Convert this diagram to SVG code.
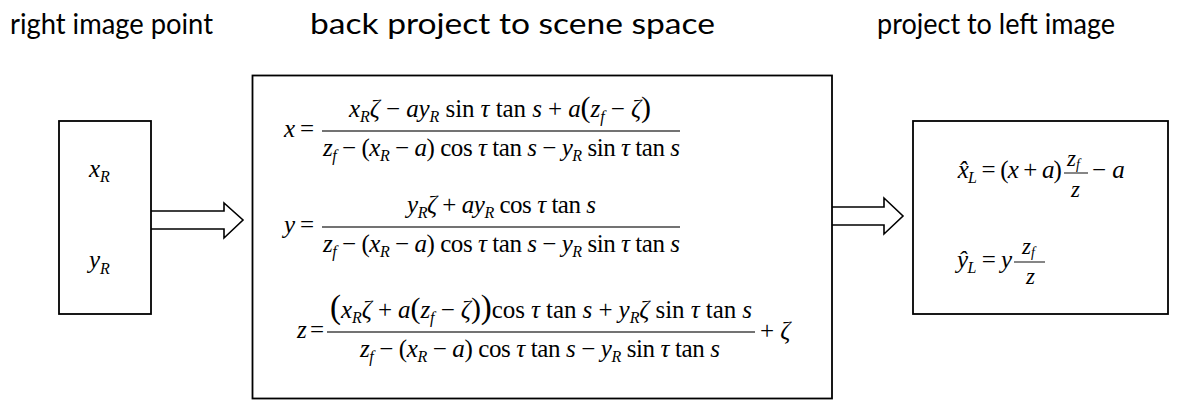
<svg xmlns="http://www.w3.org/2000/svg" width="1196" height="402" viewBox="0 0 1196 402">
<style>
.t{font-family:Lato,"Liberation Sans",sans-serif;font-size:29px;fill:#000}
.m{font-family:"Liberation Serif","DejaVu Serif",serif;font-size:25px;fill:#000}
.fr{font-size:23px}
.i{font-style:italic}
.s{font-size:16px;font-style:italic}
.s2{font-size:14px;font-style:italic}
.bp{font-size:30px}
.box{fill:#fff;stroke:#000;stroke-width:1.8}
.frac{stroke:#444;stroke-width:1.3}
.arrow{fill:#fff;stroke:#000;stroke-width:1.6;stroke-linejoin:miter}
</style>
<rect width="1196" height="402" fill="#fff"/>
<g id="connectors">
<path class="arrow" d="M151,211 H224 V203 L243,220 L224,238 V229 H151"/>
<path class="arrow" d="M832,207 H884 V198 L903,216 L884,234 V225 H832"/>
</g>
<g id="node-right-image-point">
<text class="t" x="10" y="34" textLength="203" lengthAdjust="spacingAndGlyphs">right image point</text>
<rect class="box" x="59" y="121" width="92" height="193"/>
<text class="m" x="89" y="177"><tspan class="i">x</tspan><tspan class="s" dy="5">R</tspan></text>
<text class="m" x="89" y="268"><tspan class="i">y</tspan><tspan class="s" dy="6">R</tspan></text>
</g>
<g id="node-scene-space">
<text class="t" x="310" y="34" textLength="405" lengthAdjust="spacingAndGlyphs">back project to scene space</text>
<rect class="box" x="252.5" y="75.5" width="579.5" height="323" stroke-width="2"/>
<text class="m" x="284" y="137" textLength="30" lengthAdjust="spacing"><tspan class="i">x</tspan> =</text>
<text class="m" x="349" y="117" textLength="302" lengthAdjust="spacing"><tspan class="i">x</tspan><tspan class="s" dy="5">R</tspan><tspan class="i" dy="-5">ζ</tspan> − <tspan class="i">ay</tspan><tspan class="s" dy="5">R</tspan><tspan dy="-5"> sin </tspan><tspan class="i">τ</tspan> tan <tspan class="i">s</tspan> + <tspan class="i">a</tspan><tspan class="bp">(</tspan><tspan class="i">z</tspan><tspan class="s" dy="5">f</tspan><tspan dy="-5"> − </tspan><tspan class="i">ζ</tspan><tspan class="bp">)</tspan></text>
<line class="frac" x1="322" y1="131" x2="680" y2="131"/>
<text class="m" x="323" y="156" textLength="357" lengthAdjust="spacing"><tspan class="i">z</tspan><tspan class="s" dy="5">f</tspan><tspan dy="-5"> − (</tspan><tspan class="i">x</tspan><tspan class="s" dy="5">R</tspan><tspan dy="-5"> − </tspan><tspan class="i">a</tspan>) cos <tspan class="i">τ</tspan> tan <tspan class="i">s</tspan> − <tspan class="i">y</tspan><tspan class="s" dy="5">R</tspan><tspan dy="-5"> sin </tspan><tspan class="i">τ</tspan> tan <tspan class="i">s</tspan></text>
<text class="m" x="284" y="233" textLength="30" lengthAdjust="spacing"><tspan class="i">y</tspan> =</text>
<text class="m" x="407" y="213" textLength="189" lengthAdjust="spacing"><tspan class="i">y</tspan><tspan class="s" dy="5">R</tspan><tspan class="i" dy="-5">ζ</tspan> + <tspan class="i">ay</tspan><tspan class="s" dy="5">R</tspan><tspan dy="-5"> cos </tspan><tspan class="i">τ</tspan> tan <tspan class="i">s</tspan></text>
<line class="frac" x1="322" y1="227" x2="680" y2="227"/>
<text class="m" x="323" y="252" textLength="357" lengthAdjust="spacing"><tspan class="i">z</tspan><tspan class="s" dy="5">f</tspan><tspan dy="-5"> − (</tspan><tspan class="i">x</tspan><tspan class="s" dy="5">R</tspan><tspan dy="-5"> − </tspan><tspan class="i">a</tspan>) cos <tspan class="i">τ</tspan> tan <tspan class="i">s</tspan> − <tspan class="i">y</tspan><tspan class="s" dy="5">R</tspan><tspan dy="-5"> sin </tspan><tspan class="i">τ</tspan> tan <tspan class="i">s</tspan></text>
<text class="m" x="297" y="338" textLength="27" lengthAdjust="spacing"><tspan class="i">z</tspan> =</text>
<text class="m" x="330" y="318" textLength="422" lengthAdjust="spacing"><tspan font-size="33">(</tspan><tspan class="i">x</tspan><tspan class="s" dy="5">R</tspan><tspan class="i" dy="-5">ζ</tspan> + <tspan class="i">a</tspan><tspan class="bp">(</tspan><tspan class="i">z</tspan><tspan class="s" dy="5">f</tspan><tspan dy="-5"> − </tspan><tspan class="i">ζ</tspan><tspan class="bp">)</tspan><tspan font-size="33">)</tspan>cos <tspan class="i">τ</tspan> tan <tspan class="i">s</tspan> + <tspan class="i">y</tspan><tspan class="s" dy="5">R</tspan><tspan class="i" dy="-5">ζ</tspan> sin <tspan class="i">τ</tspan> tan <tspan class="i">s</tspan></text>
<line class="frac" x1="327" y1="332" x2="755" y2="332"/>
<text class="m" x="360" y="357" textLength="360" lengthAdjust="spacing"><tspan class="i">z</tspan><tspan class="s" dy="5">f</tspan><tspan dy="-5"> − (</tspan><tspan class="i">x</tspan><tspan class="s" dy="5">R</tspan><tspan dy="-5"> − </tspan><tspan class="i">a</tspan>) cos <tspan class="i">τ</tspan> tan <tspan class="i">s</tspan> − <tspan class="i">y</tspan><tspan class="s" dy="5">R</tspan><tspan dy="-5"> sin </tspan><tspan class="i">τ</tspan> tan <tspan class="i">s</tspan></text>
<text class="m" x="760" y="339">+ <tspan class="i">ζ</tspan></text>
</g>
<g id="node-left-image">
<text class="t" x="877" y="34" textLength="238" lengthAdjust="spacingAndGlyphs">project to left image</text>
<rect class="box" x="913" y="121" width="255" height="193"/>
<text class="m" x="957" y="178" textLength="104" lengthAdjust="spacing"><tspan class="i">x̂</tspan><tspan class="s" dy="5">L</tspan><tspan dy="-5"> = (</tspan><tspan class="i">x</tspan> + <tspan class="i">a</tspan>)</text>
<text class="m fr" x="1067" y="166"><tspan class="i">z</tspan><tspan class="s2" dy="3">f</tspan></text>
<line class="frac" x1="1064" y1="173" x2="1088" y2="173"/>
<text class="m fr" x="1071" y="197"><tspan class="i">z</tspan></text>
<text class="m" x="1092" y="178">− <tspan class="i">a</tspan></text>
<text class="m" x="957" y="268" textLength="55" lengthAdjust="spacing"><tspan class="i">ŷ</tspan><tspan class="s" dy="5">L</tspan><tspan dy="-5"> = </tspan><tspan class="i">y</tspan></text>
<text class="m fr" x="1022" y="254"><tspan class="i">z</tspan><tspan class="s2" dy="3">f</tspan></text>
<line class="frac" x1="1014" y1="262" x2="1045" y2="262"/>
<text class="m fr" x="1026" y="284"><tspan class="i">z</tspan></text>
</g>
</svg>
